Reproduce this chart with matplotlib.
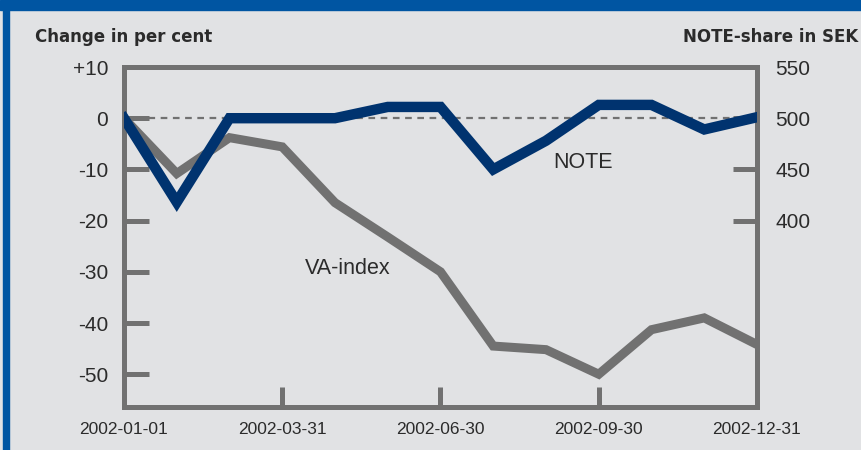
import matplotlib.pyplot as plt
import matplotlib.patches as patches
import numpy as np

# Data
dates = ["2002-01-01", "2002-01-31", "2002-02-28", "2002-03-31", "2002-04-30",
         "2002-05-31", "2002-06-30", "2002-07-31", "2002-08-31", "2002-09-30",
         "2002-10-31", "2002-11-30", "2002-12-31"]
va_index = [0, -10.8, -3.8, -5.6, -16.5, -23.2, -30.0, -44.5, -45.2, -50.0, -41.3, -39.0, -44.2]
note_sek = [500, 418, 500, 500, 500, 511, 511, 450, 478, 513, 513, 489, 501]
xtick_labels = ["2002-01-01", "2002-03-31", "2002-06-30", "2002-09-30", "2002-12-31"]
left_ticks = [10, 0, -10, -20, -30, -40, -50]
left_labels = ["+10", "0", "-10", "-20", "-30", "-40", "-50"]
right_ticks = [550, 500, 450, 400]

bg = "#e1e2e4"
grey = "#717171"
navy = "#00336f"
frame_blue = "#0055a2"
txt = "#2b2b2b"

plt.rcParams['font.family'] = ['Liberation Sans', 'DejaVu Sans']

fig = plt.figure(figsize=(8.62, 4.5), dpi=100, facecolor=bg)
ax = fig.add_axes([124 / 862, 1 - 407 / 450, (757 - 124) / 862, (407 - 67) / 450])
ax.set_facecolor(bg)

x = np.arange(len(dates))
ax.set_xlim(0, len(dates) - 1)
ax.set_ylim(-56.4, 10)

# zero reference line
ax.axhline(0, color=grey, lw=1.6, ls=(0, (3, 2.5)), zorder=1)

ax.plot(x, va_index, color=grey, lw=6.5, solid_joinstyle='miter', zorder=3)
ax.text(305, 450 - 269, "VA-index", transform=None, fontsize=15.5, color=txt, va='center')

ax2 = ax.twinx()
ax2.set_ylim(500 + 5 * -56.4, 550)
ax2.plot(x, note_sek, color=navy, lw=7.5, solid_joinstyle='miter', zorder=4)
ax.text(553, 450 - 162, "NOTE", transform=None, fontsize=15.5, color=txt, va='center')

for a in (ax, ax2):
    for s in a.spines.values():
        s.set_color(grey)
        s.set_linewidth(3.6)

ax.set_xticks(x[::3])
ax.set_xticklabels(xtick_labels, fontsize=12.5, color=txt)
ax.tick_params(axis='x', direction='in', length=14.5, width=3.6, color=grey, pad=11)
ax.set_yticks(left_ticks)
ax.set_yticklabels(left_labels, fontsize=15, color=txt)
ax.tick_params(axis='y', direction='in', length=18, width=3.6, color=grey, pad=11.5)

ax2.set_yticks(right_ticks)
ax2.set_yticklabels([str(t) for t in right_ticks], fontsize=15, color=txt)
ax2.tick_params(axis='y', direction='in', length=17, width=3.6, color=grey, pad=13)

fig.text(35 / 862, 1 - 42 / 450, "Change in per cent", fontsize=12, fontweight='bold',
         family='DejaVu Sans', color=txt, va='baseline', ha='left')
fig.text(858 / 862, 1 - 42 / 450, "NOTE-share in SEK", fontsize=12, fontweight='bold',
         family='DejaVu Sans', color=txt, va='baseline', ha='right')

# blue frame at top and left edge
fig.patches.append(patches.Rectangle((0, 1 - 10 / 450), 1, 10 / 450, transform=fig.transFigure,
                                     color=frame_blue, zorder=0))
fig.patches.append(patches.Rectangle((3 / 862, 0), 6 / 862, 1, transform=fig.transFigure,
                                     color=frame_blue, zorder=0))

fig.savefig("out.png", dpi=100, facecolor=bg)
